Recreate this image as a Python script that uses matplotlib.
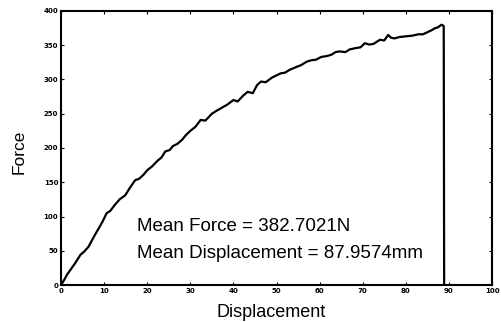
import matplotlib
matplotlib.use("Agg")
import matplotlib.pyplot as plt

# values
displacement = [0, 0.6, 1.5, 2.4, 3.3, 4.5, 5.4, 6.4, 7.5, 8.5, 9.6, 10.6, 11.4, 12.5,
                13.6, 14.9, 16.0, 17.2, 18.1, 19.0, 20.1, 21.1, 22.5, 23.3, 24.2,
                25.2, 26.0, 27.0, 28.1, 29.0, 30.0, 31.2, 32.4, 33.5, 35.0, 36.0,
                37.1, 38.5, 40.0, 41.0, 42.2, 43.3, 44.5, 45.5, 46.4, 47.5, 49.0,
                51.0, 52.0, 53.0, 54.5, 55.7, 57.0, 58.0, 59.2, 60.4, 61.5, 62.7,
                63.7, 64.6, 66.0, 67.0, 68.5, 69.5, 70.5, 71.5, 72.5, 74.0, 75.0,
                75.9, 76.6, 77.4, 78.5, 80.0, 81.5, 82.9, 84.0, 85.0, 86.0, 86.8,
                87.4, 88.3, 88.8, 88.9]
force = [0, 6, 16, 24, 32, 44, 49, 56, 69, 80, 92, 105, 108, 117,
         125, 131, 142, 153, 155, 160, 168, 173, 182, 186, 195,
         197, 203, 206, 212, 219, 225, 231, 241, 240, 250, 254,
         258, 263, 270, 268, 276, 282, 280, 292, 297, 296, 303,
         309, 310, 314, 318, 321, 326, 328, 329, 333, 334, 336,
         340, 341, 340, 344, 346, 347, 353, 351, 352, 358, 357,
         365, 361, 360, 362, 363, 364, 366, 366, 369, 372, 375,
         376, 380, 378, 0]

x_ticks = [0, 10, 20, 30, 40, 50, 60, 70, 80, 90, 100]
y_ticks = [0, 50, 100, 150, 200, 250, 300, 350, 400]

fig = plt.figure(figsize=(5.01, 3.22), dpi=100)
ax = fig.add_axes([61 / 501, 37 / 322, 431 / 501, 274 / 322])

ax.plot(displacement, force, color="black", linewidth=1.6)

ax.set_xlim(0, 100)
ax.set_ylim(0, 400)
ax.set_xticks(x_ticks)
ax.set_yticks(y_ticks)
ax.tick_params(direction="in", length=2.5, width=0.8, labelsize=5,
               top=True, right=True, pad=2)
for lab in ax.get_xticklabels() + ax.get_yticklabels():
    lab.set_fontweight("bold")
for sp in ax.spines.values():
    sp.set_linewidth(1.5)

ax.set_xlabel("Displacement", fontsize=13, family="Liberation Sans")
ax.xaxis.set_label_coords(0.487, -0.07, transform=ax.transAxes)
ax.xaxis.label.set_va("top")
ax.set_ylabel("Force", fontsize=12.5, family="Liberation Sans")
ax.yaxis.set_label_coords(-0.097, 0.485, transform=ax.transAxes)
ax.yaxis.label.set_va("center")

ax.text(17.6, 79, "Mean Force = 382.7021N", fontsize=13.5,
        family="Liberation Sans", va="baseline")
ax.text(17.6, 40, "Mean Displacement = 87.9574mm", fontsize=13.5,
        family="Liberation Sans", va="baseline")

fig.savefig("out.png", dpi=100)
